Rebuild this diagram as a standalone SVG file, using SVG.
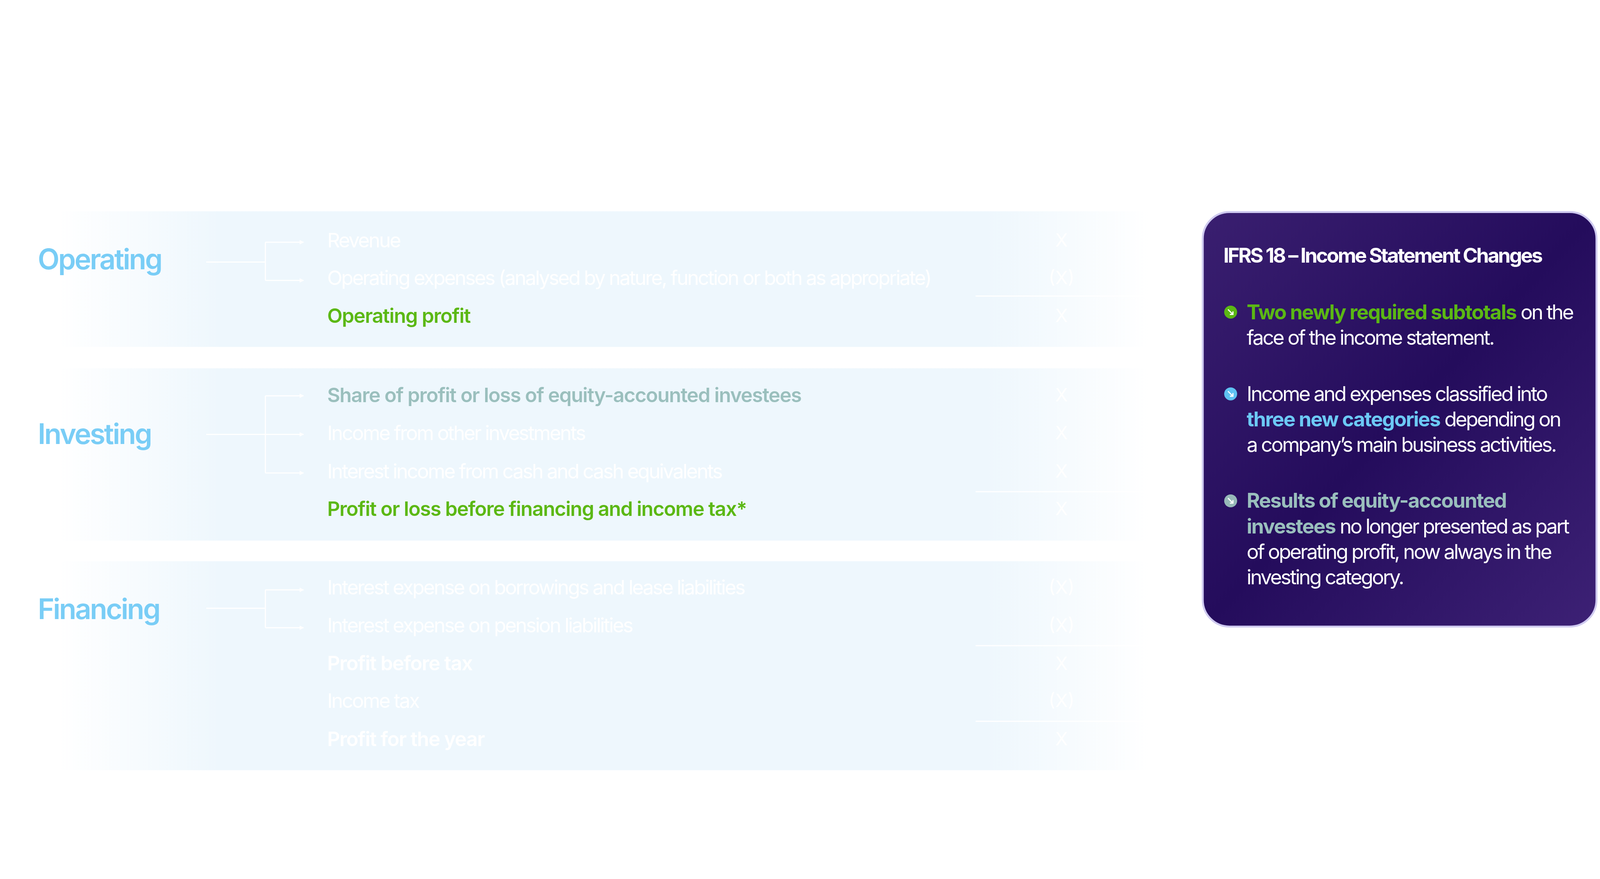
<svg xmlns="http://www.w3.org/2000/svg" width="4186" height="2249" viewBox="0 0 4186 2249">
<defs>
<linearGradient id="band" x1="0" x2="1" y1="0" y2="0">
<stop offset="0" stop-color="#eef7fd" stop-opacity="0"/>
<stop offset="0.15" stop-color="#eef7fd"/>
<stop offset="0.85" stop-color="#eef7fd"/>
<stop offset="1" stop-color="#eef7fd" stop-opacity="0"/>
</linearGradient>
<linearGradient id="panel" x1="0" y1="0" x2="1" y2="1">
<stop offset="0" stop-color="#3a1f70"/>
<stop offset="0.5" stop-color="#240c5c"/>
<stop offset="1" stop-color="#3d2175"/>
</linearGradient>
<marker id="arr" viewBox="0 0 10 10" refX="9" refY="5" markerWidth="4" markerHeight="4" orient="auto"><path d="M0,0L10,5L0,10z" fill="#ffffff"/></marker>
<style>
.cat{font-family:Inter,"Liberation Sans",sans-serif;font-weight:600;font-size:74px;fill:#79cdf6;letter-spacing:-3.5px}
.it{font-family:Inter,"Liberation Sans",sans-serif;font-size:52px;fill:#ffffff;letter-spacing:-3.1px}
.b{font-weight:600;letter-spacing:-1.5px}
.g{fill:#5bb814;font-weight:600;letter-spacing:-1.5px}
.s{fill:#9abfbd;font-weight:600;letter-spacing:-1.5px}
.v{font-family:Inter,"Liberation Sans",sans-serif;font-size:48px;fill:#ffffff;text-anchor:middle}
.ln{stroke:#ffffff;stroke-width:3;fill:none}
.pt{font-family:Inter,"Liberation Sans",sans-serif;font-size:53px;fill:#ffffff;letter-spacing:-3.5px}
.pb{font-weight:700;letter-spacing:-2px}
</style>
</defs>
<rect width="4186" height="2249" fill="#ffffff"/>
<g transform="scale(0.9775)">
<g id="band-operating"><rect x="150" y="553" width="2860" height="355" fill="url(#band)"/></g>
<g id="band-investing"><rect x="150" y="964" width="2860" height="451" fill="url(#band)"/></g>
<g id="band-financing"><rect x="150" y="1469" width="2860" height="547" fill="url(#band)"/></g>
<g id="operating"><text class="cat" x="99" y="705">Operating</text></g>
<g id="investing"><text class="cat" x="99" y="1162">Investing</text></g>
<g id="financing"><text class="cat" x="99" y="1620">Financing</text></g>
<g id="items">
<text class="it" x="857" y="648">Revenue</text>
<text class="it" x="857" y="746">Operating expenses (analysed by nature, function or both as appropriate)</text>
<text class="it g" x="857" y="845">Operating profit</text>
<text class="it s" x="857" y="1053">Share of profit or loss of equity-accounted investees</text>
<text class="it" x="857" y="1152">Income from other investments</text>
<text class="it" x="857" y="1252">Interest income from cash and cash equivalents</text>
<text class="it g" x="857" y="1350">Profit or loss before financing and income tax*</text>
<text class="it" x="857" y="1556">Interest expense on borrowings and lease liabilities</text>
<text class="it" x="857" y="1655">Interest expense on pension liabilities</text>
<text class="it b" x="857" y="1755">Profit before tax</text>
<text class="it" x="857" y="1853">Income tax</text>
<text class="it b" x="857" y="1953">Profit for the year</text>
</g>
<g id="values">
<text class="v" x="2780" y="646">X</text>
<text class="v" x="2780" y="744">(X)</text>
<text class="v" x="2780" y="843">X</text>
<text class="v" x="2780" y="1051">X</text>
<text class="v" x="2780" y="1150">X</text>
<text class="v" x="2780" y="1250">X</text>
<text class="v" x="2780" y="1348">X</text>
<text class="v" x="2780" y="1554">(X)</text>
<text class="v" x="2780" y="1653">(X)</text>
<text class="v" x="2780" y="1753">X</text>
<text class="v" x="2780" y="1851">(X)</text>
<text class="v" x="2780" y="1951">X</text>
</g>
<g id="connectors">
<path class="ln" d="M540 686H695M695 634V734M695 734H795" marker-end="url(#arr)"/>
<path class="ln" d="M695 634H795" marker-end="url(#arr)"/>
<path class="ln" d="M695 1036V1238M695 1238H795" marker-end="url(#arr)"/>
<path class="ln" d="M695 1036H795" marker-end="url(#arr)"/>
<path class="ln" d="M540 1137H795" marker-end="url(#arr)"/>
<path class="ln" d="M540 1592H695M695 1544V1643M695 1643H795" marker-end="url(#arr)"/>
<path class="ln" d="M695 1544H795" marker-end="url(#arr)"/>
<path class="ln" d="M2555 775H3040M2555 1287H3040M2555 1690H3040M2555 1888H3040"/>
</g>
<g id="panel">
<rect x="3150" y="555" width="1031" height="1085" rx="70" fill="url(#panel)" stroke="#cfcaf0" stroke-width="5"/>
<text class="pt" x="3204" y="687" font-weight="700" font-size="54" letter-spacing="0.7">IFRS 18 – Income Statement Changes</text>
<circle cx="3223" cy="817" r="17" fill="#5bb814"/>
<path d="M3216 810l13 13M3229 815v8h-8" stroke="#fff" stroke-width="3" fill="none"/>
<text class="pt" x="3265" y="836"><tspan class="pb" fill="#5bb814">Two newly required subtotals</tspan> on the</text>
<text class="pt" x="3265" y="902">face of the income statement.</text>
<circle cx="3223" cy="1031" r="17" fill="#5fc2f2"/>
<path d="M3216 1024l13 13M3229 1029v8h-8" stroke="#fff" stroke-width="3" fill="none"/>
<text class="pt" x="3265" y="1050">Income and expenses classified into</text>
<text class="pt" x="3265" y="1116"><tspan class="pb" fill="#6cc9f5">three new categories</tspan>  depending on</text>
<text class="pt" x="3265" y="1183">a company’s main business activities.</text>
<circle cx="3223" cy="1311" r="17" fill="#97b9b8"/>
<path d="M3216 1304l13 13M3229 1309v8h-8" stroke="#fff" stroke-width="3" fill="none"/>
<text class="pt" x="3265" y="1329"><tspan class="pb" fill="#9abfbd">Results of equity-accounted</tspan></text>
<text class="pt" x="3265" y="1396"><tspan class="pb" fill="#9abfbd">investees</tspan> no longer presented as part</text>
<text class="pt" x="3265" y="1463">of operating profit, now always in the</text>
<text class="pt" x="3265" y="1529">investing category.</text>
</g>
</g>
</svg>
